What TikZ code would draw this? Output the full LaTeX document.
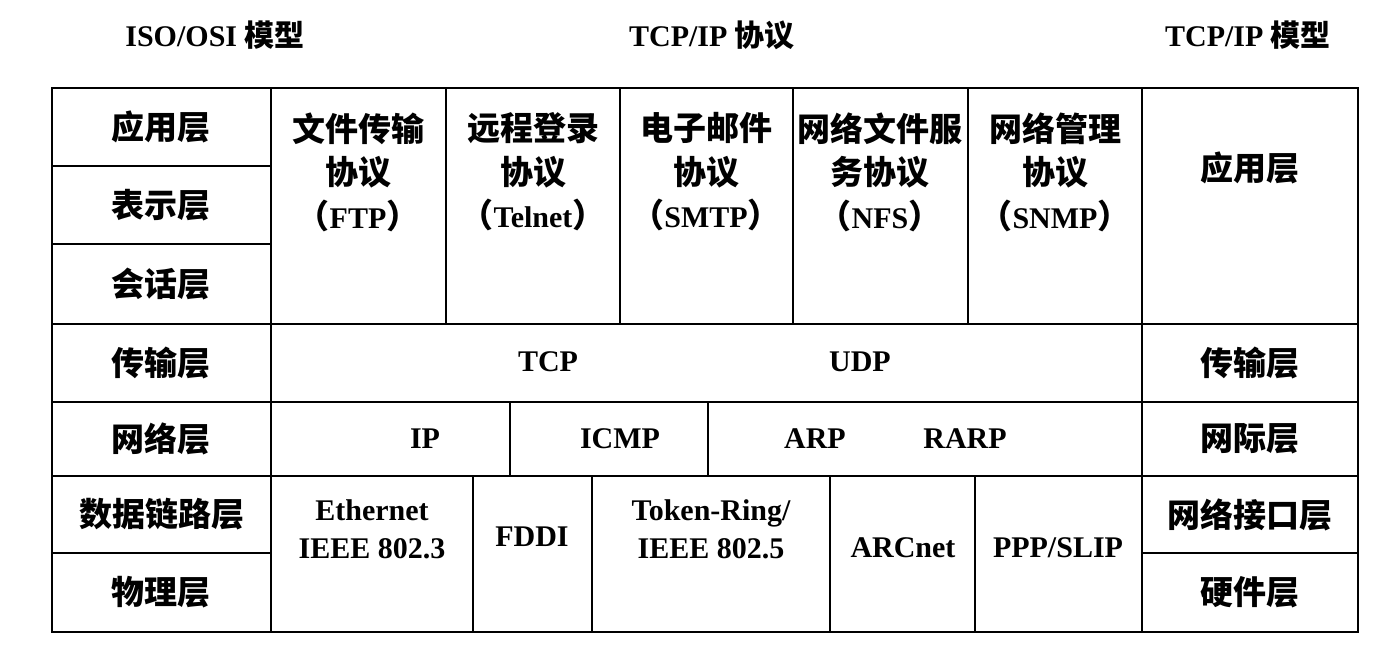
\documentclass[tikz,border=0pt]{standalone}
\usepackage{fontspec}
\setmainfont{Liberation Serif}
\newfontfamily\zh{Noto Sans CJK SC}
\usetikzlibrary{fit}

\newcommand{\lat}[1]{{\rmfamily\bfseries\fontsize{15}{21.75}\selectfont #1}}

\begin{document}
\begin{tikzpicture}[
    x=0.5pt, y=-0.5pt,
    cell/.style={draw, line width=1.2pt, inner sep=0pt},
    txt/.style={align=center, inner sep=0pt, font=\bfseries\fontsize{15}{19}\selectfont},
    zhtxt/.style={align=center, inner sep=0pt, font=\zh\bfseries\fontsize{16.5}{21.75}\selectfont},
    title/.style={inner sep=0pt, font=\bfseries\fontsize{15}{18}\selectfont}
]
\useasboundingbox (0,0) rectangle (1378,644);

% Titel
\node[title] (osititle) at (215,35) {ISO/OSI {\zh 模型}};
\node[title] (prottitle) at (712,35) {TCP/IP {\zh 协议}};
\node[title] (tcptitle) at (1248,35) {TCP/IP {\zh 模型}};

% ISO/OSI
\node[cell, fit={(52,88) (271,166)}] (osi7) {};
\node[cell, fit={(52,166) (271,244)}] (osi6) {};
\node[cell, fit={(52,244) (271,324)}] (osi5) {};
\node[cell, fit={(52,324) (271,402)}] (osi4) {};
\node[cell, fit={(52,402) (271,476)}] (osi3) {};
\node[cell, fit={(52,476) (271,553)}] (osi2) {};
\node[cell, fit={(52,553) (271,632)}] (osi1) {};
\node[zhtxt] (osi7txt) at (osi7) {应用层};
\node[zhtxt] (osi6txt) at (osi6) {表示层};
\node[zhtxt] (osi5txt) at (osi5) {会话层};
\node[zhtxt] (osi4txt) at (osi4) {传输层};
\node[zhtxt] (osi3txt) at (osi3) {网络层};
\node[zhtxt] (osi2txt) at (osi2) {数据链路层};
\node[zhtxt] (osi1txt) at (osi1) {物理层};

% Anwendungsprotokolle
\node[cell, fit={(271,88) (446,324)}] (ftp) {};
\node[cell, fit={(446,88) (620,324)}] (telnet) {};
\node[cell, fit={(620,88) (793,324)}] (smtp) {};
\node[cell, fit={(793,88) (968,324)}] (nfs) {};
\node[cell, fit={(968,88) (1142,324)}] (snmp) {};
\node[zhtxt] (ftptxt) at (358,172) {文件传输\\协议\\（\lat{FTP}）};
\node[zhtxt] (telnettxt) at (533,172) {远程登录\\协议\\（\lat{Telnet}）};
\node[zhtxt] (smtptxt) at (706,172) {电子邮件\\协议\\（\lat{SMTP}）};
\node[zhtxt] (nfstxt) at (880,172) {网络文件服\\务协议\\（\lat{NFS}）};
\node[zhtxt] (snmptxt) at (1055,172) {网络管理\\协议\\（\lat{SNMP}）};

% Transport
\node[cell, fit={(271,324) (1142,402)}] (trans) {};
\node[txt] (tcp) at (548,362) {TCP};
\node[txt] (udp) at (860,362) {UDP};

% Netz
\node[cell, fit={(271,402) (510,476)}] (ip) {};
\node[cell, fit={(510,402) (708,476)}] (icmp) {};
\node[cell, fit={(708,402) (1142,476)}] (arp) {};
\node[txt] (iptxt) at (425,439) {IP};
\node[txt] (icmptxt) at (620,439) {ICMP};
\node[txt] (arptxt) at (815,439) {ARP};
\node[txt] (rarptxt) at (965,439) {RARP};

% Netzzugang
\node[cell, fit={(271,476) (473,632)}] (eth) {};
\node[cell, fit={(473,476) (592,632)}] (fddi) {};
\node[cell, fit={(592,476) (830,632)}] (token) {};
\node[cell, fit={(830,476) (975,632)}] (arcnet) {};
\node[cell, fit={(975,476) (1142,632)}] (ppp) {};
\node[txt] (ethtxt) at (372,529) {Ethernet\\IEEE 802.3};
\node[txt] (fdditxt) at (532,537) {FDDI};
\node[txt] (tokentxt) at (711,529) {Token-Ring/\\IEEE 802.5};
\node[txt] (arcnettxt) at (903,548) {ARCnet};
\node[txt] (ppptxt) at (1058,548) {PPP/SLIP};

% TCP/IP
\node[cell, fit={(1142,88) (1358,324)}] (tapp) {};
\node[cell, fit={(1142,324) (1358,402)}] (ttrans) {};
\node[cell, fit={(1142,402) (1358,476)}] (tnet) {};
\node[cell, fit={(1142,476) (1358,553)}] (tif) {};
\node[cell, fit={(1142,553) (1358,632)}] (thw) {};
\node[zhtxt] (tapptxt) at (1250,168) {应用层};
\node[zhtxt] (ttranstxt) at (ttrans) {传输层};
\node[zhtxt] (tnettxt) at (tnet) {网际层};
\node[zhtxt] (tiftxt) at (tif) {网络接口层};
\node[zhtxt] (thwtxt) at (thw) {硬件层};

\end{tikzpicture}
\end{document}
